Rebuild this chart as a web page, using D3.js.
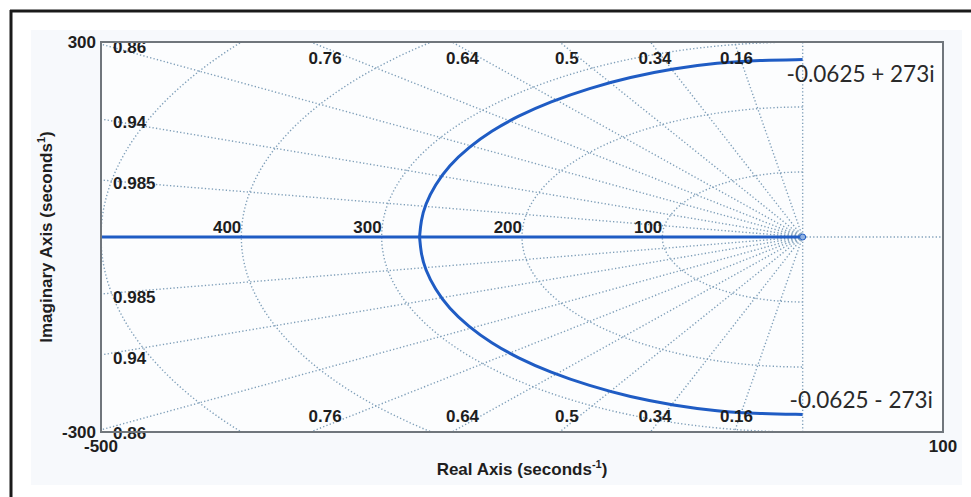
<!DOCTYPE html>
<html lang="en">
<head>
<meta charset="utf-8">
<title>Root Locus</title>
<style>
    body { margin: 0; background: #ffffff; }
    svg { display: block; }
    .tick-label, .grid-label, .axis-label {
        font-family: "Liberation Sans", Arial, sans-serif;
        font-weight: bold;
        font-size: 17px;
        fill: #1e1e1e;
    }
    .note {
        font-family: Lato, "Open Sans", sans-serif;
        font-size: 22.5px;
        fill: #2a2a2a;
    }
    .grid { fill: none; stroke: #7f9fb9; stroke-width: 1.4; stroke-dasharray: 1.3,2.2; }
</style>
</head>
<body>
<script src="https://d3js.org/d3.v7.min.js"></script>
<script>
// axis limits and the only tick labels shown
var xDomain = [-500, 100];
var yDomain = [-300, 300];
var xTicks = [-500, 100];
var yTicks = [-300, 300];

// sgrid: damping ratios and natural frequencies
var zetas = [0.16, 0.34, 0.5, 0.64, 0.76, 0.86, 0.94, 0.985];
var wns = [100, 200, 300, 400, 500];
var wnLabels = [100, 200, 300, 400];

// locus branch lying on the real axis
var axisBranchRe = [-500, 0];
var axisBranchIm = [0, 0];

// complex branches
var upperRe = [-0.0625, -30, -61, -92, -123, -152, -180, -203, -222, -238, -252, -262, -269, -272, -273];
var upperIm = [273, 272, 268, 259, 246, 229, 208, 186, 163, 138, 110, 80, 50, 25, 0];
var lowerRe = [-0.0625, -30, -61, -92, -123, -152, -180, -203, -222, -238, -252, -262, -269, -272, -273];
var lowerIm = [-273, -272, -268, -259, -246, -229, -208, -186, -163, -138, -110, -80, -50, -25, 0];

var notes = ["-0.0625 + 273i", "-0.0625 - 273i"];

var W = 971, H = 497;
var margin = { top: 42, right: 28, bottom: 65, left: 101 };
var width = W - margin.left - margin.right,
    height = H - margin.top - margin.bottom;

var x = d3.scaleLinear().domain(xDomain).range([0, width]);
var y = d3.scaleLinear().domain(yDomain).range([height, 0]);

var svg = d3.select("body").append("svg")
    .attr("width", W)
    .attr("height", H);

// figure background + frame
svg.append("rect").attr("x", 31).attr("y", 30).attr("width", 931).attr("height", 455)
    .attr("fill", "#f7f9fc");
svg.append("line").attr("x1", 10).attr("y1", 11).attr("x2", W).attr("y2", 11)
    .attr("stroke", "#1a1a1a").attr("stroke-width", 3);
svg.append("line").attr("x1", 11).attr("y1", 10).attr("x2", 11).attr("y2", H)
    .attr("stroke", "#1a1a1a").attr("stroke-width", 3);

var g = svg.append("g")
    .attr("transform", "translate(" + margin.left + "," + margin.top + ")");

g.append("rect").attr("width", width).attr("height", height).attr("fill", "#fcfdfe");

g.append("clipPath").attr("id", "clip")
    .append("rect").attr("width", width).attr("height", height);

var plot = g.append("g").attr("clip-path", "url(#clip)");

var line = d3.line()
    .x(function(d) { return x(d[0]); })
    .y(function(d) { return y(d[1]); });

// damping rays
zetas.forEach(function(z) {
    var s = Math.sqrt(1 - z * z);
    [1, -1].forEach(function(sign) {
        plot.append("path").attr("class", "grid")
            .attr("d", line([[0, 0], [-1000 * z, sign * 1000 * s]]));
    });
});
// zeta = 0 and the positive real axis
plot.append("path").attr("class", "grid").attr("d", line([[0, yDomain[0]], [0, yDomain[1]]]));
plot.append("path").attr("class", "grid").attr("d", line([[0, 0], [xDomain[1], 0]]));

// natural frequency arcs
wns.forEach(function(w) {
    var pts = d3.range(90, 270.5, 1).map(function(a) {
        var t = a * Math.PI / 180;
        return [w * Math.cos(t), w * Math.sin(t)];
    });
    plot.append("path").attr("class", "grid").attr("d", line(pts));
});

// zeta labels
zetas.forEach(function(z) {
    var s = Math.sqrt(1 - z * z);
    var reTop = -yDomain[1] * z / s;
    [1, -1].forEach(function(sign) {
        var t = g.append("text").attr("class", "grid-label").text(z);
        if (reTop > xDomain[0]) {
            t.attr("x", x(-291 * z / s))
             .attr("y", sign > 0 ? 22 : height - 10)
             .attr("text-anchor", "middle");
        } else {
            var im = -xDomain[0] * s / z;
            t.attr("x", 12)
             .attr("y", y(sign * im) + 3)
             .attr("dy", "0.35em");
        }
    });
});

// wn labels on the real axis
wnLabels.forEach(function(w) {
    g.append("text").attr("class", "grid-label")
        .attr("x", x(-w))
        .attr("y", y(0) - 4)
        .attr("text-anchor", "end")
        .text(w);
});

// locus
var blue = "#1f5cc4";
plot.append("path")
    .attr("d", line(axisBranchRe.map(function(r, i) { return [r, axisBranchIm[i]]; })))
    .attr("fill", "none").attr("stroke", blue).attr("stroke-width", 3);

var curve = d3.line()
    .x(function(d) { return x(d[0]); })
    .y(function(d) { return y(d[1]); })
    .curve(d3.curveBasis);

plot.append("path")
    .attr("d", curve(upperRe.map(function(r, i) { return [r, upperIm[i]]; })))
    .attr("fill", "none").attr("stroke", blue).attr("stroke-width", 3);
plot.append("path")
    .attr("d", curve(lowerRe.map(function(r, i) { return [r, lowerIm[i]]; })))
    .attr("fill", "none").attr("stroke", blue).attr("stroke-width", 3);

g.append("circle").attr("cx", x(0)).attr("cy", y(0)).attr("r", 3)
    .attr("fill", "#8fb0e0").attr("stroke", blue).attr("stroke-width", 1);

// axes box
g.append("rect").attr("width", width).attr("height", height)
    .attr("fill", "none").attr("stroke", "#70767c").attr("stroke-width", 2);

// tick labels (ends only)
g.append("text").attr("class", "tick-label").attr("x", -5).attr("y", y(yTicks[1]) + 6)
    .attr("text-anchor", "end").text(yTicks[1]);
g.append("text").attr("class", "tick-label").attr("x", -5).attr("y", y(yTicks[0]) + 6)
    .attr("text-anchor", "end").text(yTicks[0]);
xTicks.forEach(function(v) {
    g.append("text").attr("class", "tick-label")
        .attr("x", x(v)).attr("y", height + 20)
        .attr("text-anchor", "middle").text(v);
});

// axis titles
var xl = g.append("text").attr("class", "axis-label")
    .attr("x", width / 2).attr("y", height + 43).attr("text-anchor", "middle");
xl.append("tspan").text("Real Axis (seconds");
xl.append("tspan").attr("dy", -7).attr("font-size", "11px").text("-1");
xl.append("tspan").attr("dy", 7).text(")");

var yl = g.append("text").attr("class", "axis-label")
    .attr("transform", "translate(" + (-49) + "," + (height / 2) + ") rotate(-90)")
    .attr("text-anchor", "middle");
yl.append("tspan").text("Imaginary Axis (seconds");
yl.append("tspan").attr("dy", -7).attr("font-size", "11px").text("1");
yl.append("tspan").attr("dy", 7).text(")");

// pole annotations
g.append("text").attr("class", "note")
    .attr("x", x(upperRe[0]) - 16).attr("y", y(upperIm[0]) + 22).text(notes[0]);
g.append("text").attr("class", "note")
    .attr("x", x(lowerRe[0]) - 13).attr("y", y(lowerIm[0]) - 6).text(notes[1]);
</script>
</body>
</html>
